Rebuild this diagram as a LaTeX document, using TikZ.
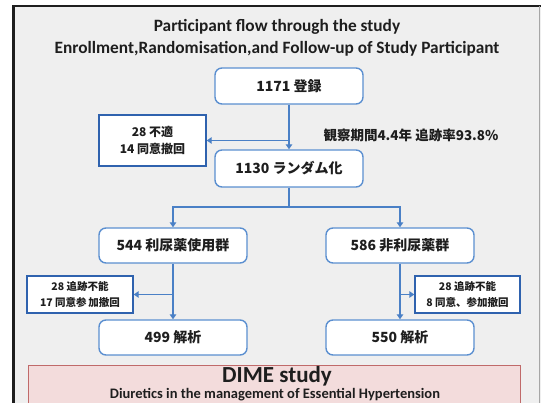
\documentclass[tikz,border=0pt]{standalone}
\usepackage{fontspec}
\setmainfont{Carlito}
\newfontfamily\jp{Noto Sans CJK JP}
\usetikzlibrary{arrows.meta}
\definecolor{boxblue}{HTML}{5B8FD0}
\definecolor{sideblue}{HTML}{2F62AE}
\definecolor{linkblue}{HTML}{4A80C6}
\definecolor{ink}{HTML}{1E1E1E}
\definecolor{panel}{HTML}{EFEFEF}
\definecolor{dimefill}{HTML}{F3DCDC}
\definecolor{dimeedge}{HTML}{C06A6A}

\begin{document}
\begin{tikzpicture}[x=1pt,y=-1pt,
  stage/.style={draw=boxblue, line width=1.4pt, rounded corners=7pt, fill=white,
    minimum width=148pt, minimum height=36pt, inner sep=0pt, text=ink,
    font=\jp\bfseries\fontsize{14}{16}\selectfont},
  sidebox/.style={draw=sideblue, line width=1.4pt, fill=white, align=center,
    inner sep=0pt, text=ink},
  link/.style={draw=linkblue, line width=1.8pt, -{Triangle[length=5pt,width=6.5pt]}},
  heading/.style={text=ink, inner sep=0pt, font=\bfseries\fontsize{17.3}{19}\selectfont}]

\clip (0,0) rectangle (541,403);
\fill[white] (0,0) rectangle (541,403);
% slide panel and its frame
\fill[panel] (13,6) rectangle (541,403);
\draw[ink, line width=3pt] (13,5.5) -- (13,403);
\draw[ink, line width=1.5pt] (12,6) -- (541,6);
\draw[gray!70, line width=0.8pt] (539,6) -- (539,403);

% headings
\node[heading] (title1) at (277,27) {Participant flow through the study};
\node[heading] (title2) at (277,49) {Enrollment,Randomisation,and Follow-up of Study Participant};

% flow boxes
\node[stage] (enrol) at (289,86) {1171 登録};
\node[stage, minimum height=37pt] (rand) at (289,168.5) {1130 ランダム化};
\node[stage, minimum height=35pt] (diu) at (173,245.5) {544 利尿薬使用群};
\node[stage, minimum height=35pt] (nondiu) at (400,245.5) {586 非利尿薬群};
\node[stage, minimum height=35pt] (anaL) at (173,337.5) {499 解析};
\node[stage, minimum height=35pt] (anaR) at (400,337.5) {550 解析};

% exclusion boxes
\node[sidebox, minimum width=107pt, minimum height=51pt,
  font=\jp\bfseries\fontsize{12}{17}\selectfont] (excl) at (152.5,140.5)
  {28 不適\\14 同意撤回};
\node[sidebox, minimum width=106pt, minimum height=37pt,
  font=\jp\bfseries\fontsize{10.5}{15.5}\selectfont] (lossL) at (80,294.5)
  {28 追跡不能\\17 同意参\,加撤回};
\node[sidebox, minimum width=105pt, minimum height=37pt,
  font=\jp\bfseries\fontsize{10.5}{15.5}\selectfont] (lossR) at (467.5,294.5)
  {28 追跡不能\\8 同意、参加撤回};

% follow-up note
\node[text=ink, inner sep=0pt, font=\jp\bfseries\fontsize{13.5}{15}\selectfont]
  (obs) at (411,135) {観察期間4.4年 追跡率93.8\%};

% connectors
\coordinate (j1) at (289,140.5);
\coordinate (fork) at (289,207);
\coordinate (j2) at (173,294.5);
\coordinate (j3) at (400,294.5);
\draw[link] (enrol.south) -- (rand.north);
\draw[link] (j1) -- (excl.east);
\draw[link] (rand.south) -- (fork) -| (diu.north);
\draw[link] (fork) -| (nondiu.north);
\draw[link] (diu.south) -- (anaL.north);
\draw[link] (j2) -- (lossL.east);
\draw[link] (nondiu.south) -- (anaR.north);
\draw[link] (j3) -- (lossR.west);

% study banner
\node[draw=dimeedge, fill=dimefill, line width=0.8pt, minimum width=492pt,
  minimum height=60pt, inner sep=0pt] (dime) at (274,395) {};
\node[text=ink, inner sep=0pt, font=\bfseries\fontsize{23}{25}\selectfont]
  (dimetitle) at (277,376.5) {DIME study};
\node[text=ink, inner sep=0pt, font=\bfseries\fontsize{14.5}{16}\selectfont]
  (dimesub) at (275,395) {Diuretics in the management of Essential Hypertension};
\end{tikzpicture}
\end{document}
